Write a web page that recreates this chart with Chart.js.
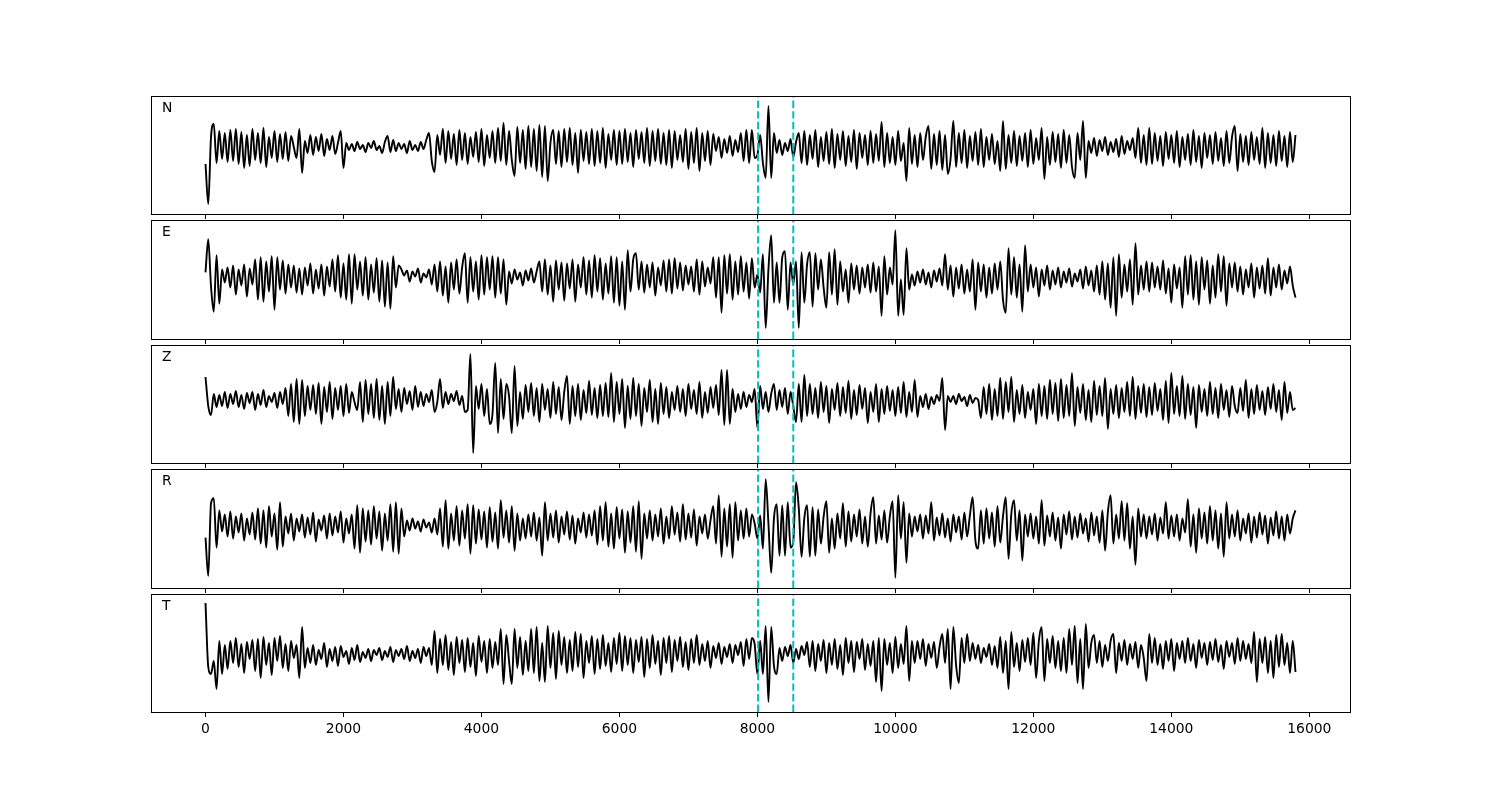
<!DOCTYPE html>
<html><head><meta charset="utf-8">
<script src="https://cdn.jsdelivr.net/npm/chart.js@4.4.0/dist/chart.umd.min.js"></script>
<style>
html,body{margin:0;padding:0;background:#fff;}
#wrap{position:relative;width:1500px;height:800px;}
#wrap canvas{position:absolute;left:0;top:0;}
</style>
</head><body><div id="wrap"></div>
<script>
// ---------------- data ----------------
const componentLabels = ['N', 'E', 'Z', 'R', 'T'];
const traceDuration = 15800;          // samples
const pickTimes = [8010, 8520];       // picked phase times (samples)
const xTicks = [0, 2000, 4000, 6000, 8000, 10000, 12000, 14000, 16000];
const xRange = [-790, 16590];
const yRange = [-59, 59];

const traceN = [
-9,-49,18,31,-8,
24,-4,22,-7,25,-6,26,-9,23,-13,20,-11,26,-5,22,-8,27,-12,18,-3,24,-7,21,-4,23,-6,19,8,-3,26,-18,
14,2,20,0,18,4,21,-1,16,5,19,1,12,24,-13,
12,5,11,4,13,6,10,3,12,7,14,5,9,2,13,19,3,15,4,12,6,11,2,14,5,10,4,13,6,15,
22,-6,-17,20,0,26,-8,24,-4,21,-10,25,-5,22,-9,18,-2,23,-7,26,-11,20,-3,24,-8,27,-6,32,
-10,24,-5,-21,28,-8,25,-14,29,-12,26,-16,30,-22,29,-26,12,
25,-9,24,-12,26,-7,27,-10,22,-18,25,-6,23,-9,26,-11,24,-8,27,-13,21,-5,25,-10,24,-9,26,-7,22,-12,
25,-4,23,-8,27,-11,24,-6,26,-9,22,-10,25,-13,24,-5,20,-7,26,-14,23,-8,27,-16,22,-6,24,-10,21,4,
18,-3,16,2,19,-1,15,3,22,-6,25,-8,25,-3,
0,20,-8,-23,49,-23,22,2,15,0,12,4,16,-2,13,
22,-8,24,-10,20,-4,25,-12,18,-6,23,-9,26,-13,21,-5,24,-11,19,-7,25,-14,22,-3,20,-10,24,-8,21,-6,
33,-12,22,-8,18,-10,24,-6,12,-26,27,-9,20,-12,22,-5,18,
29,-14,21,-10,24,-15,20,-19,-4,34,-12,
22,-8,25,-13,19,-6,23,-10,26,-12,18,-5,21,-9,14,
-16,34,-14,20,-8,24,-11,19,-6,22,-12,25,-9,17,-5,27,-24,
18,-10,23,-7,21,-13,25,-8,20,-12,-23,22,-5,34,-23,
14,2,17,-1,15,4,18,0,13,3,16,-2,19,1,14,5,17,-3,
27,-8,20,-10,27,
-9,22,-6,19,-11,23,-4,20,-8,24,-12,18,-5,21,-10,25,-7,19,-13,22,-3,20,-9,23,-6,17,-11,24,-8,18,
29,-16,21,-7,19,-10,23,-5,18,-9,27,-13,
22,-8,20,-11,24,-6,19,-12,23,-7,20
];

const traceE = [
7,40,-7,-32,24,-24,10,-3,
12,-8,14,-15,10,-6,15,-17,11,-5,
20,-20,22,-22,18,-12,23,-30,22,-10,19,-14,15,
-8,14,-13,11,-15,12,-6,16,-14,10,-9,15,-16,13,-7,
20,-12,24,-18,16,-20,25,-24,25,-10,18,-16,22,-20,15,-13,21,-22,19,-27,17,-29,23,-8,14,
10,4,9,-2,8,3,11,-3,6,2,10,-5,
15,-12,18,-16,13,-23,17,-10,20,-14,12,
26,-23,22,-12,18,-20,24,-15,22,-10,23,-18,22,-14,20,-25,
8,-4,10,0,7,-6,9,-1,11,-3,8,
18,-12,20,-15,14,-22,19,-10,17,-21,16,-9,20,-22,15,-8,
22,-15,19,-18,24,-12,21,-20,16,-14,23,-23,22,-26,18,-30,29,-12,20,
26,-10,18,-13,15,-8,17,-16,12,-6,19,-12,20,-14,21,-9,17,-11,14,-5,13,-12,20,-15,18,-7,12,-4,
22,-18,22,-33,24,-14,25,-20,18,-15,23,-12,17,-19,21,-8,
5,-13,25,-48,10,44,-23,17,-23,22,28,-30,17,-5,18,-48,27,-23,15,27,-27,26,-10,20,-8,-28,27,-15,30,-25,18,-12,10,-23,
16,-10,14,-14,12,-8,15,-13,17,-12,13,-36,23,-15,12,
-5,49,-36,0,-35,31,-10,
5,-6,8,-3,10,-5,7,-8,9,-2,11,-6,
25,
-10,14,-17,12,-9,15,-14,10,-12,20,
-30,17,-12,15,-18,12,-14,16,-10,
18,-20,-33,31,-15,22,-18,15,-32,34,-12,
15,-8,12,-17,10,-6,14,-10,9,-5,12,-8,8,-3,11,-7,6,-2,10,-9,13,-6,9,-12,14,
-15,18,-20,16,-28,22,-36,25,-18,15,-12,20,-25,36,-15,14,-10,18,
-12,17,-8,13,-10,19,-14,11,-23,15,-9,12,-28,23,
-15,24,-20,18,-25,22,-10,19,-24,14,-18,25,-12,23,-26,16,-8,
17,-12,13,-15,10,-8,16,-18,12,-9,14,-14,21,-16,12,-8,15,-10,9,-4,13,-6,-18
];

const traceZ = [
27,-2,-11,10,-3,
9,-2,12,-4,10,0,13,-3,9,-5,11,1,12,-6,10,-1,14,-3,8,2,11,-4,12,0,
16,-12,20,-18,25,-20,24,-12,18,-6,
19,-10,21,-20,17,-8,22,-15,16,-6,18,-12,20,-9,12,2,-6,
22,-18,24,-10,20,-14,25,-16,18,-20,22,-12,27,
-5,15,-8,16,0,13,-6,18,-3,12,-2,10,2,14,-8,2,25,-4,12,0,10,3,13,-1,8,-8,
-6,50,-49,18,-5,20,-12,15,-20,-10,41,-29,25,-15,20,8,-29,38,-22,12,
-15,19,-8,21,-12,16,-18,20,-6,15,-14,22,-10,17,-16,12,28,-20,18,-12,20,-16,14,-9,23,-11,16,-14,19,-12,21,-13,
31,
-18,22,-10,25,-24,18,-15,26,-12,20,-22,16,-8,24,-18,15,-20,21,-10,17,-14,12,-6,
18,-8,15,-12,20,-5,14,-10,22,-14,12,-9,17,-4,19,-11,
34,-21,34,-20,15,
-8,10,-5,12,-3,9,2,15,
-24,18,-5,12,-8,10,20,-6,14,-3,16,-10,12,-2,-18,20,-18,29,-12,
20,-10,16,-14,22,-8,18,-19,15,-6,21,-12,17,-9,23,-15,14,-11,19,-5,16,-19,12,-8,
20,-18,15,-10,18,-7,14,-12,17,-9,22,-13,12,
-8,24,-13,
8,-3,10,-5,7,0,9,
3,26,-26,8,
2,8,0,10,3,7,-2,9,1,6,4,
-14,17,-10,20,-16,15,-12,26,-15,22,-8,27,-18,14,-10,19,-14,12,-6,15,
-20,20,-12,18,-15,24,-10,21,-17,25,-14,19,-12,31,-22,17,-9,20,-16,14,-18,23,-11,18,-12,26,-25,
15,-10,19,-14,16,-8,22,-12,27,-15,18,-9,20,-13,17,-11,21,-7,15,-16,23,-19,31,-10,18,-12,
28,-15,20,-11,17,-24,19,-8,15,-12,22,-10,16,-14,20,-6,14,-13,18,
-2,-9,16,-7,24,-14,15,-10,19,-6,13,-11,17,-5,20,-8,14,-16,22,-9,12,-6,-4
];

const traceR = [
-9,-47,25,30,-19,18,-3,
14,-8,17,-10,12,-4,15,-12,10,-6,16,-11,
20,-15,18,-19,22,-8,15,-21,26,-18,
12,-5,15,-12,10,-3,14,-9,11,-6,16,-13,9,-2,13,-10,15,-7,12,-4,17,-14,10,-5,14,
-20,23,-24,20,-13,18,-16,22,-10,17,-22,15,-12,24,-23,26,-25,20,-8,
8,-2,10,0,7,-3,9,1,6,-4,10,-6,
20,-18,28,-20,15,-12,22,-17,18,-10,24,-25,23,-15,19,-11,17,-19,21,-13,16,-20,28,-9,18,-14,22,-22,15,-12,10,
-10,14,-8,16,-12,11,-27,26,-12,15,-9,18,-14,12,-6,17,-11,13,-15,10,-4,16,-9,14,-7,
18,-16,22,-12,26,-18,15,-20,21,-10,19,-24,17,-14,22,-23,27,-30,15,-10,
18,-12,14,-8,20,-15,12,-10,22,-6,16,-13,24,-11,15,-9,19,-17,12,-5,14,-10,8,
22,-15,33,-28,20,-18,24,-29,26,-12,18,-10,20,-8,14,5,
-10,13,-20,49,5,-44,10,24,-27,23,-27,26,-19,-13,46,20,-28,10,23,-28,21,-27,19,-15,12,27,-24,10,-20,15,-10,25,-18,
17,-13,14,-8,19,-15,12,-18,15,31,-15,13,-11,18,-14,12,
27,-49,33,-10,26,-34,15,
-8,12,-3,14,-10,13,-5,26,-12,11,-7,15,-9,10,-13,14,-4,12,-11,16,-8,13,
31,-12,-20,18,-15,20,-10,16,-18,22,-14,12,31,-30,14,28,-12,18,-32,14,-8,
15,-10,12,-15,28,-17,13,-8,16,-12,11,-20,14,-6,17,-11,12,-9,15,-5,10,-13,16,-7,12,
-14,18,-22,16,33,-15,14,-10,27,-12,25,-20,12,-36,20,-8,14,
-10,12,-6,15,-12,11,-5,26,-10,13,-8,14,-12,10,-4,
29,-18,14,-24,20,-10,16,-15,22,-12,18,-20,15,-28,26,
-10,14,-8,18,-12,10,-5,15,-14,12,-9,16,-6,13,-15,11,-7,17,-10,12,-12,14,-5,10,18
];

const traceT = [
50,-14,-21,-8,-36,12,-21,
8,-16,12,-10,15,-14,9,-20,11,-6,13,-18,14,-25,16,-12,10,-22,15,-8,17,-15,9,-18,12,-5,8,-25,26,
-15,5,-10,8,-12,3,-6,10,-14,4,-8,6,-13,7,-4,2,-11,5,-7,8,-9,1,-5,4,-8,3,-2,5,-7,2,-4,6,-9,3,-3,4,-6,7,-8,2,-5,4,-10,6,-3,5,-12,
22,-20,14,-12,18,-17,11,-22,16,-10,13,-19,15,-14,10,-23,17,-9,12,-20,14,-15,11,-12,24,-31,18,-8,
-31,24,-15,16,-22,12,-18,24,-20,26,-28,10,-29,27,-15,
20,-26,22,-12,16,-20,13,-18,21,-14,19,-25,12,-10,17,-21,14,-16,18,-13,10,-19,15,-11,20,
-18,17,-12,15,-20,13,-9,16,-24,14,-15,18,-11,12,-22,15,-10,17,-19,13,-8,16,-14,11,-17,14,-10,
18,-12,9,-8,12,-15,7,-5,10,-11,6,-4,9,-10,8,-2,11,-13,14,-6,15,9,
-21,12,-21,27,-49,26,-13,-21,5,
-8,6,-3,8,-10,4,-6,7,-2,
11,-14,12,-18,9,-8,13,-20,10,-12,14,-16,8,-22,15,-10,12,-19,11,-6,14,-17,9,-13,12,-29,
15,-38,14,-12,10,-20,16,-15,9,-11,27,-28,12,
-10,12,-6,14,-13,9,-5,11,-15,6,
19,-10,24,-36,26,-12,-30,15,-10,19,-8,10,
-6,8,-10,5,-4,9,-12,7,
-15,16,-20,12,-36,21,-14,10,-18,13,-9,15,-12,20,-25,12,26,-28,14,-10,17,-15,12,-18,15,-20,24,-12,
27,-30,14,-36,29,-15,10,18,-10,12,-14,8,-8,
12,19,-20,10,-8,13,-12,9,-6,11,-15,8,-5,
-28,19,-10,15,-12,9,-16,12,-8,14,-18,10,-6,
12,-10,15,-8,9,-15,13,-5,10,-12,11,-7,14,-9,8,-16,12,-4,10,-11,15,-8,12,-6,9,-10,
21,-29,14,-10,16,-20,12,-25,18,-14,19,-12,10,-20,12,-19
];

const traces = [traceN, traceE, traceZ, traceR, traceT];

// ---------------- layout / style ----------------
const W = 1500, H = 800;
const axLeft = 151, axRight = 1350;
const panelTops = [96, 220, 345, 469, 594];
const panelBottoms = [214, 339, 463, 588, 712];
const XAXIS_H = 40;
const FONT = '"DejaVu Sans", "Liberation Sans", sans-serif';

const panelDecor = {
  id: 'panelDecor',
  afterDraw(chart, args, opts) {
    const ctx = chart.ctx, a = chart.chartArea;
    ctx.save();
    ctx.strokeStyle = '#000';
    ctx.lineWidth = 1;
    ctx.strokeRect(Math.round(a.left) + 0.5, Math.round(a.top) + 0.5,
                   Math.round(a.right - a.left), Math.round(a.bottom - a.top));
    ctx.fillStyle = '#000';
    ctx.font = '13.9px ' + FONT;
    ctx.textBaseline = 'middle';
    ctx.textAlign = 'left';
    ctx.fillText(opts.label, a.left + 11, a.top + 12);
    ctx.restore();
  }
};

const wrap = document.getElementById('wrap');
traces.forEach((vals, k) => {
  const cv = document.createElement('canvas');
  cv.width = W; cv.height = H;
  cv.style.width = W + 'px'; cv.style.height = H + 'px';
  wrap.appendChild(cv);
  const isBottom = k === traces.length - 1;
  const n = vals.length;
  const traceData = vals.map((v, i) => ({ x: i * traceDuration / (n - 1), y: v }));
  const pickSets = pickTimes.map(t => ({
    data: [{ x: t, y: yRange[0] }, { x: t, y: yRange[1] }],
    borderColor: '#00BFBF', borderWidth: 2, borderDash: [7.4, 3.2],
    pointRadius: 0, tension: 0, order: 0
  }));
  new Chart(cv, {
    type: 'line',
    data: {
      datasets: [
        ...pickSets,
        { data: traceData, borderColor: '#000', borderWidth: 1.9, pointRadius: 0,
          cubicInterpolationMode: 'monotone', order: 1, borderJoinStyle: 'round' }
      ]
    },
    plugins: [panelDecor],
    options: {
      responsive: false, animation: false, events: [],
      devicePixelRatio: 1,
      layout: { padding: { left: axLeft, right: W - axRight, top: panelTops[k],
                           bottom: H - panelBottoms[k] - XAXIS_H } },
      plugins: { legend: { display: false }, tooltip: { enabled: false },
                 panelDecor: { label: componentLabels[k] } },
      scales: {
        x: {
          type: 'linear', position: 'bottom', min: xRange[0], max: xRange[1],
          afterBuildTicks: (s) => { s.ticks = xTicks.map(v => ({ value: v })); },
          afterFit: (s) => { s.height = XAXIS_H; },
          grid: { display: true, drawOnChartArea: false, drawTicks: true,
                  tickLength: 5, color: '#000', lineWidth: 1 },
          border: { display: false },
          ticks: { display: isBottom, color: '#000', padding: 4, maxRotation: 0,
                   autoSkip: false, font: { family: FONT, size: 13.9 },
                   callback: (v) => String(v) }
        },
        y: { type: 'linear', min: yRange[0], max: yRange[1], display: false }
      }
    }
  });
});
</script>
</body></html>
